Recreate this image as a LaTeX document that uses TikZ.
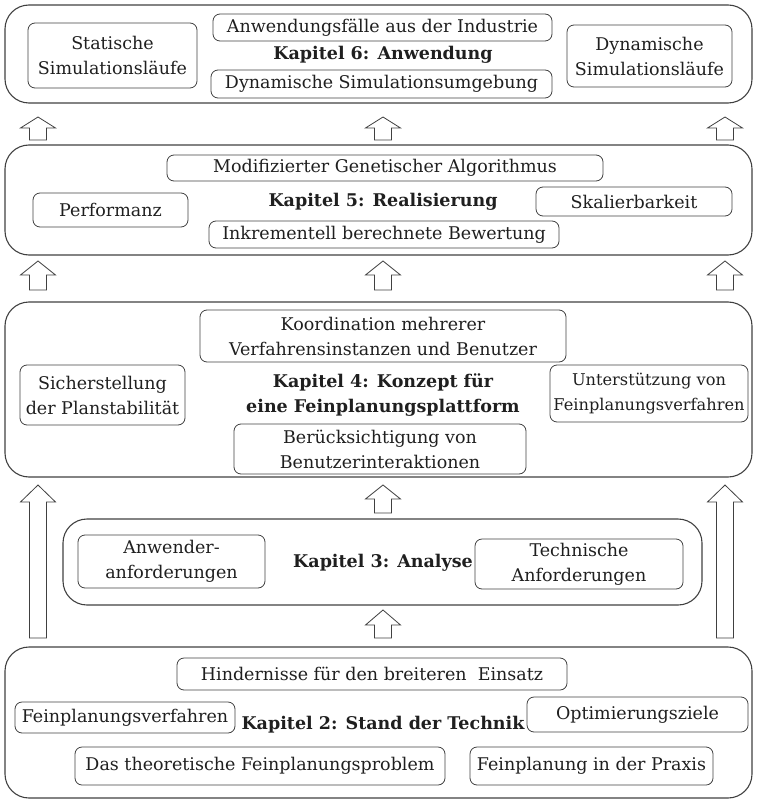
\documentclass[tikz,border=0pt]{standalone}
\usepackage{fontspec}
\setmainfont{DejaVu Serif}
\begin{document}
\begin{tikzpicture}[x=1pt,y=-1pt,
  font=\fontsize{17.5}{25}\selectfont,
  outer/.style={draw=black!75, line width=1.1pt, rounded corners=24pt},
  ibox/.style={draw=black!75, line width=0.8pt, rounded corners=7pt, align=center,
    inner sep=0pt, text=black!88},
  title/.style={font=\fontsize{17.5}{25}\selectfont\bfseries, align=center, text=black!88},
  arrowline/.style={draw=black!75, line width=0.8pt, fill=white, line join=miter}]
\useasboundingbox (0,0) rectangle (757,802);

\newcommand\blockup[4]{% centre x, bottom y, head base y, tip y
  \draw[arrowline] (#1-8.5,#2) -- (#1-8.5,#3) -- (#1-17.5,#3) -- (#1,#4)
    -- (#1+17.5,#3) -- (#1+8.5,#3) -- (#1+8.5,#2) -- cycle;}

% Kapitel 6
\draw[outer] (5,5) rectangle (752,103);
\node[ibox, minimum width=169, minimum height=65] (stat) at (112.5,55.5) {Statische\\Simulationsläufe};
\node[ibox, minimum width=339, minimum height=27] (anw) at (382.5,27.5) {Anwendungsfälle aus der Industrie};
\node[title] (k6) at (383,55) {Kapitel 6: Anwendung};
\node[ibox, minimum width=341, minimum height=28] (dynu) at (381.5,84) {Dynamische Simulationsumgebung};
\node[ibox, minimum width=165, minimum height=62] (dynl) at (649.5,56) {Dynamische\\Simulationsläufe};

% Kapitel 5
\draw[outer] (5,145) rectangle (752,255);
\node[ibox, minimum width=436, minimum height=26] (mod) at (385,168) {Modifizierter Genetischer Algorithmus};
\node[title] (k5) at (383,202) {Kapitel 5: Realisierung};
\node[ibox, minimum width=155, minimum height=34] (perf) at (110.5,210) {Performanz};
\node[ibox, minimum width=196, minimum height=29] (skal) at (634,201.5) {Skalierbarkeit};
\node[ibox, minimum width=350, minimum height=27] (ink) at (384,234.5) {Inkrementell berechnete Bewertung};

% Kapitel 4
\draw[outer] (5,302) rectangle (752,477);
\node[ibox, minimum width=366, minimum height=52] (koord) at (383,336) {Koordination mehrerer\\Verfahrensinstanzen und Benutzer};
\node[ibox, minimum width=165, minimum height=60] (sich) at (102.5,395) {Sicherstellung\\der Planstabilität};
\node[title] (k4) at (383,395) {Kapitel 4: Konzept für\\eine Feinplanungsplattform};
\node[ibox, minimum width=198, minimum height=57, font=\fontsize{16.2}{25}\selectfont] (unt) at (649,393.5) {Unterstützung von\\Feinplanungsverfahren};
\node[ibox, minimum width=292, minimum height=50] (ber) at (380,449) {Berücksichtigung von\\Benutzerinteraktionen};

% Kapitel 3
\draw[outer] (63,519) rectangle (702,605);
\node[ibox, minimum width=187, minimum height=53] (anf) at (171.5,561.5) {Anwender-\\anforderungen};
\node[title] (k3) at (383,563) {Kapitel 3: Analyse};
\node[ibox, minimum width=208, minimum height=50] (tech) at (579,564) {Technische\\Anforderungen};

% Kapitel 2
\draw[outer] (5,647) rectangle (752,798);
\node[ibox, minimum width=390, minimum height=32] (hind) at (372,674) {Hindernisse für den breiteren\ \ Einsatz};
\node[ibox, minimum width=220, minimum height=31] (fein) at (125,717.5) {Feinplanungsverfahren};
\node[title] (k2) at (383,725) {Kapitel 2: Stand der Technik};
\node[ibox, minimum width=221, minimum height=35] (opt) at (637.5,714.5) {Optimierungsziele};
\node[ibox, minimum width=370, minimum height=38] (das) at (260,766) {Das theoretische Feinplanungsproblem};
\node[ibox, minimum width=243, minimum height=38] (prax) at (591.5,766) {Feinplanung in der Praxis};

% Block arrows between the chapters
\blockup{38}{140}{128}{117}
\blockup{383}{140}{128}{117}
\blockup{725}{140}{128}{117}
\blockup{38}{290}{275}{261}
\blockup{383}{290}{275}{261}
\blockup{725}{290}{275}{261}
\blockup{383}{513}{499}{485}
\blockup{383}{638}{625}{610}
\blockup{38}{638}{502}{485}
\blockup{725}{638}{502}{485}
\end{tikzpicture}
\end{document}
